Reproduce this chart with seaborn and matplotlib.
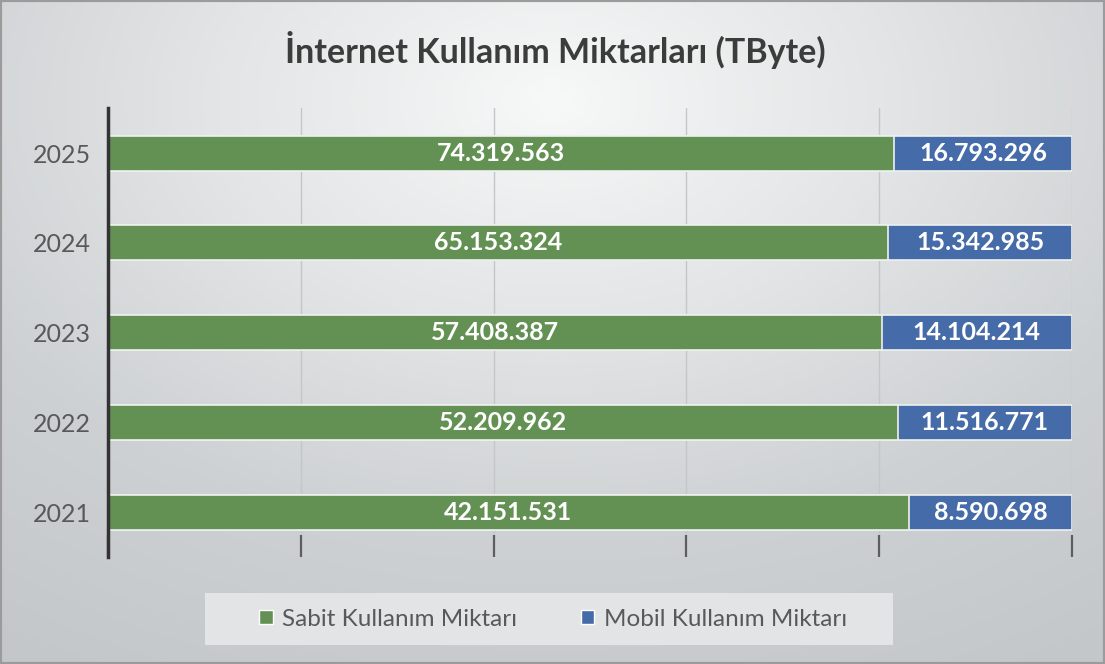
import numpy as np
import pandas as pd
import seaborn as sns
import matplotlib.pyplot as plt
from matplotlib.colors import LinearSegmentedColormap
from matplotlib.patches import Patch, Rectangle

# Veriler (TByte)
years = ['2025', '2024', '2023', '2022', '2021']
sabit = [74319563, 65153324, 57408387, 52209962, 42151531]
mobil = [16793296, 15342985, 14104214, 11516771, 8590698]

df = pd.DataFrame({'Yıl': years, 'Sabit': sabit, 'Mobil': mobil})
df['Toplam'] = df['Sabit'] + df['Mobil']
df['Sabit %'] = df['Sabit'] / df['Toplam'] * 100
df['Toplam %'] = 100.0

green = '#639153'
blue = '#456ba8'


def fmt(v):
    return f'{v:,}'.replace(',', '.')


sns.set_style('white')
plt.rcParams['font.family'] = ['Lato', 'DejaVu Sans']

fig = plt.figure(figsize=(11.05, 6.64), dpi=100)

# arka plan gradyanı
bg = fig.add_axes([0, 0, 1, 1], zorder=-10)
yy, xx = np.mgrid[0:1:200j, 0:1:300j]
dist = np.sqrt(((xx - 0.5) * 1.0) ** 2 + ((yy - 0.15) * 0.9) ** 2)
cmap = LinearSegmentedColormap.from_list('bg', ['#f7f8f8', '#e3e5e6', '#ced1d3', '#c4c7ca'])
bg.imshow(dist, cmap=cmap, aspect='auto', extent=[0, 1, 1, 0], vmin=0, vmax=0.9)
bg.add_patch(Rectangle((0, 0), 1, 1, transform=bg.transAxes, fill=False,
                       edgecolor='#9b9b9b', linewidth=3))
# lejant kutusu
bg.add_patch(Rectangle((205 / 1105, 1 - 645 / 664), 688 / 1105, 52 / 664,
                       transform=bg.transAxes, facecolor='#e3e4e5', edgecolor='none'))
bg.axis('off')

ax = fig.add_axes([0.0977, 0.161, 0.8724, 0.676])
ax.patch.set_alpha(0)
ax.set_axisbelow(True)

sns.barplot(data=df, y='Yıl', x='Toplam %', order=years, color=blue, saturation=1,
            width=0.39, edgecolor='#eef0f0', linewidth=1.2, ax=ax)
sns.barplot(data=df, y='Yıl', x='Sabit %', order=years, color=green, saturation=1,
            width=0.39, edgecolor='#eef0f0', linewidth=1.2, ax=ax)

ax.bar_label(ax.containers[1], labels=[fmt(v) for v in sabit], label_type='center',
             color='white', fontweight='bold', fontsize=18)
for i, (p, m) in enumerate(zip(df['Sabit %'], mobil)):
    ax.text((p + 100) / 2, i, fmt(m), ha='center', va='center',
            color='white', fontweight='bold', fontsize=18)

ax.set_xlim(0, 100)
ax.set_xticks([0, 20, 40, 60, 80, 100])
ax.set_xticklabels([])
ax.grid(axis='x', color='#c4c6c8', linewidth=1)
ax.tick_params(axis='x', direction='in', length=16, width=1.6, color='#5e5e5e', bottom=True)
ax.tick_params(axis='y', length=0, labelsize=18, labelcolor='#595959', pad=12)
ax.set_xlabel('')
ax.set_ylabel('')
for s in ['top', 'right', 'bottom']:
    ax.spines[s].set_visible(False)
ax.spines['left'].set_color('#333333')
ax.spines['left'].set_linewidth(2.5)

fig.text(0.5025, 0.925, 'İnternet Kullanım Miktarları (TByte)', ha='center', va='center',
         fontsize=24.5, fontweight='bold', color='#3c3c3c')

handles = [Patch(facecolor=green, label='Sabit Kullanım Miktarı'),
           Patch(facecolor=blue, label='Mobil Kullanım Miktarı')]
leg = fig.legend(handles=handles, loc='center', bbox_to_anchor=(553 / 1105, 1 - 619 / 664),
                 ncol=2, frameon=False, fontsize=17.5, handlelength=0.55, handleheight=0.55,
                 handletextpad=0.4, columnspacing=2.6)
for t in leg.get_texts():
    t.set_color('#595959')

fig.savefig('out.png', dpi=100)
